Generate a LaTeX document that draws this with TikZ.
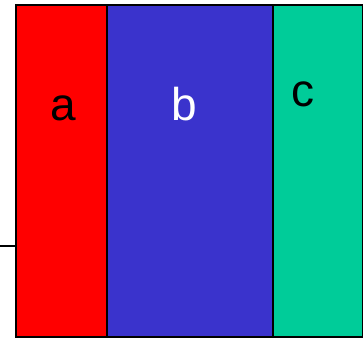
\documentclass[tikz,border=0pt]{standalone}
\usepackage{fontspec}
\setmainfont{Liberation Sans}
\usetikzlibrary{positioning}
\definecolor{barred}{HTML}{FF0000}
\definecolor{barblue}{HTML}{3A33CC}
\definecolor{barteal}{HTML}{00CC99}
\tikzset{
  bar/.style={draw=black, line width=1.1pt, inner sep=0pt, outer sep=0pt,
    anchor=north west, minimum height=249pt},
  letter/.style={anchor=base, inner sep=0pt, font=\fontsize{34.5}{40}\selectfont}
}

\begin{document}
\begin{tikzpicture}[x=0.75pt, y=-0.75pt]
    \useasboundingbox (0,0) rectangle (364,338);
    % the three bars
    \node[bar, fill=barred, minimum width=68.25pt] (a) at (16,5) {};
    \node[bar, fill=barblue, minimum width=124.5pt] (b) at (107,5) {};
    \node[bar, fill=barteal, minimum width=67.1pt] (c) at (273,5) {};
    % labels
    \node[letter] (la) at (63.5,120.5) {a};
    \node[letter, text=white] (lb) at (184,121) {b};
    \node[letter] (lc) at (303,106.5) {c};
    % lead on the left
    \coordinate (lead) at (0,246.5);
    \draw[line width=1.5pt] (lead) -- (lead -| a.west);
  \end{tikzpicture}
\end{document}
